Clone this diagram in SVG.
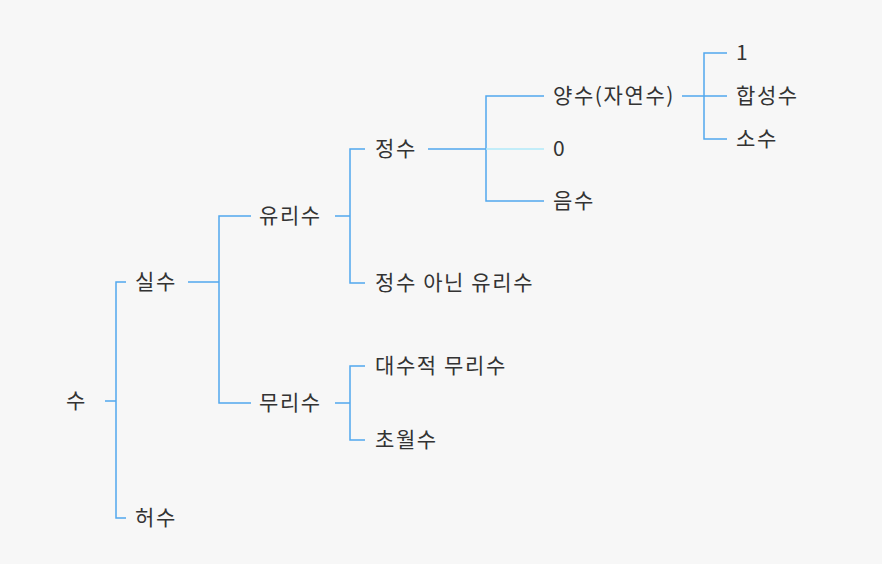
<svg xmlns="http://www.w3.org/2000/svg" width="882" height="564" viewBox="0 0 882 564">
<style>
text{font-family:"Noto Sans CJK KR","Noto Sans",sans-serif;font-size:21px;letter-spacing:1.6px;fill:#333333;dominant-baseline:central}
.c{fill:none;stroke:#52a8ee;stroke-width:1.5}
.l{fill:none;stroke:#b0eafa;stroke-width:1.5}
</style>
<rect width="882" height="564" fill="#f7f7f7"/>
<g id="connectors">
<path class="c" d="M105 401H116M126 282H116V518H126"/>
<path class="c" d="M188 282H219M251 216H219V403H251"/>
<path class="c" d="M335 216H350M365 149H350V283H365"/>
<path class="c" d="M335 403H350M365 366H350V440H365"/>
<path class="c" d="M428 149H486M544 96H486V201H544"/>
<path class="l" d="M486 149H544"/>
<path class="c" d="M682 96H704M727 53H704V139H727M704 96H727"/>
</g>
<g id="n-su"><text x="66" y="399">수</text></g>
<g id="n-silsu"><text x="135" y="280">실수</text></g>
<g id="n-heosu"><text x="135" y="516">허수</text></g>
<g id="n-yurisu"><text x="259" y="214">유리수</text></g>
<g id="n-murisu"><text x="259" y="401">무리수</text></g>
<g id="n-jeongsu"><text x="375" y="147">정수</text></g>
<g id="n-nonint"><text x="375" y="281">정수 아닌 유리수</text></g>
<g id="n-algebraic"><text x="375" y="364">대수적 무리수</text></g>
<g id="n-transcendental"><text x="375" y="438">초월수</text></g>
<g id="n-yangsu"><text x="553" y="94">양수(자연수)</text></g>
<g id="n-zero"><text x="553" y="147">0</text></g>
<g id="n-eumsu"><text x="553" y="199">음수</text></g>
<g id="n-one"><text x="736" y="51">1</text></g>
<g id="n-composite"><text x="736" y="94">합성수</text></g>
<g id="n-prime"><text x="736" y="137">소수</text></g>
</svg>
